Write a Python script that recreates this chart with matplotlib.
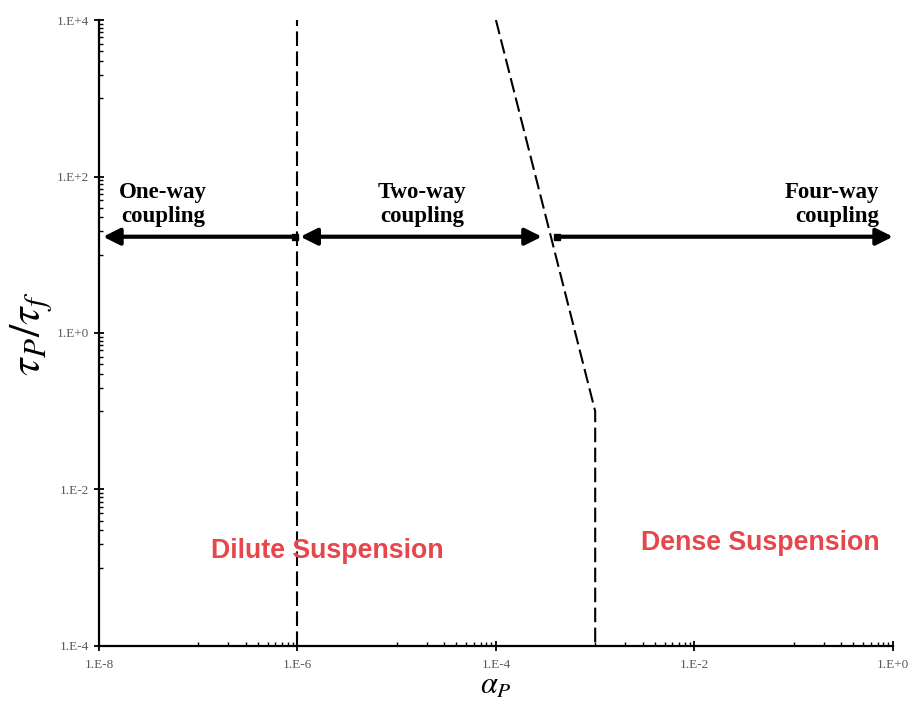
'''
Flow regime map: particle response time ratio vs particle volume fraction
'''
import numpy as np
import matplotlib.pyplot as plt
import matplotlib.ticker as mticker

plt.rcParams['mathtext.fontset'] = 'stix'

# regime boundaries (alpha_P, tau_P/tau_f)
dilute_x = [1e-6, 1e-6]
dilute_y = [1e-4, 1e4]
dense_x = [1e-4, 1e-3, 1e-3]
dense_y = [1e4, 1e-1, 1e-4]

# coupling arrows: (tail, head) in alpha_P, all at the same tau ratio
arrow_y = 17
one_way = (1e-6 * 0.94, 1.1e-8)
two_way = (1.07e-6, 2.9e-4)
four_way = (4.1e-4, 1.0)

major_ticks = [1e-8, 1e-6, 1e-4, 1e-2, 1e0]
major_labels = ['1.E-8', '1.E-6', '1.E-4', '1.E-2', '1.E+0']
y_major = [1e-4, 1e-2, 1e0, 1e2, 1e4]
y_labels = ['1.E-4', '1.E-2', '1.E+0', '1.E+2', '1.E+4']

fig = plt.figure(figsize=(9.13, 7.02), dpi=100)
ax = fig.add_axes([0.1084, 0.0798, 0.8696, 0.8917])

ax.set_xscale('log')
ax.set_yscale('log')
ax.set_xlim(1e-8, 1e0)
ax.set_ylim(1e-4, 1e4)

dash = (7, 2.6)
ax.plot(dilute_x, dilute_y, color='black', lw=1.5, linestyle=(0, dash))
ax.plot(dense_x, dense_y, color='black', lw=1.5, linestyle=(0, dash))

# arrows
head = dict(arrowstyle='-|>,head_length=1.0,head_width=0.5', color='black',
            lw=3, shrinkA=0, shrinkB=0)
ax.annotate('', xy=(one_way[1], arrow_y), xytext=(one_way[0], arrow_y),
            arrowprops=head)
ax.annotate('', xy=(four_way[1], arrow_y), xytext=(four_way[0], arrow_y),
            arrowprops=head)
both = dict(head, arrowstyle='<|-|>,head_length=1.0,head_width=0.5')
ax.annotate('', xy=(two_way[1], arrow_y), xytext=(two_way[0], arrow_y),
            arrowprops=both)
# small square ends at the tails
ax.plot([one_way[0], four_way[0]], [arrow_y, arrow_y], 's', color='black', ms=5)

serif = 'Liberation Serif'
ax.text(4.4e-8, 22.5, 'One-way\ncoupling', fontsize=16.5, fontweight='bold',
        family=serif, ha='center', va='bottom', linespacing=1.17)
ax.text(1.8e-5, 22.5, 'Two-way\ncoupling', fontsize=16.5, fontweight='bold',
        family=serif, ha='center', va='bottom', linespacing=1.17)
ax.text(0.72, 22.5, 'Four-way\ncoupling', fontsize=16.5, fontweight='bold',
        family=serif, ha='right', va='bottom', linespacing=1.17)

red = '#e5474d'
ax.text(2.0e-6, 1.62e-3, 'Dilute Suspension', fontsize=19.3, fontweight='bold',
        family='Liberation Sans', color=red, ha='center', va='center')
ax.text(4.6e-2, 2.1e-3, 'Dense Suspension', fontsize=19.3, fontweight='bold',
        family='Liberation Sans', color=red, ha='center', va='center')

# Excel-style log axes with major unit 100
for axis, majors, labels in [(ax.xaxis, major_ticks, major_labels),
                             (ax.yaxis, y_major, y_labels)]:
    axis.set_major_locator(mticker.FixedLocator(majors))
    axis.set_major_formatter(mticker.FixedFormatter(labels))
    minors = [k * m * 10 for m in majors[:-1] for k in range(1, 10)]
    axis.set_minor_locator(mticker.FixedLocator(minors))
    axis.set_minor_formatter(mticker.NullFormatter())

ax.tick_params(which='major', direction='inout', length=7, width=1.3,
               labelsize=9.5, labelcolor='#595959')
ax.tick_params(axis='x', which='major', pad=6)
ax.tick_params(which='minor', direction='in', length=3, width=1.0)
for lab in ax.get_xticklabels() + ax.get_yticklabels():
    lab.set_family(serif)

for side in ['top', 'right']:
    ax.spines[side].set_visible(False)
for side in ['left', 'bottom']:
    ax.spines[side].set_linewidth(1.6)

ax.set_xlabel(r'$\alpha_P$', fontsize=22, labelpad=0)
ax.set_ylabel(r'$\tau_P/\tau_f$', fontsize=32, labelpad=2)

fig.savefig('out.png', dpi=100)
